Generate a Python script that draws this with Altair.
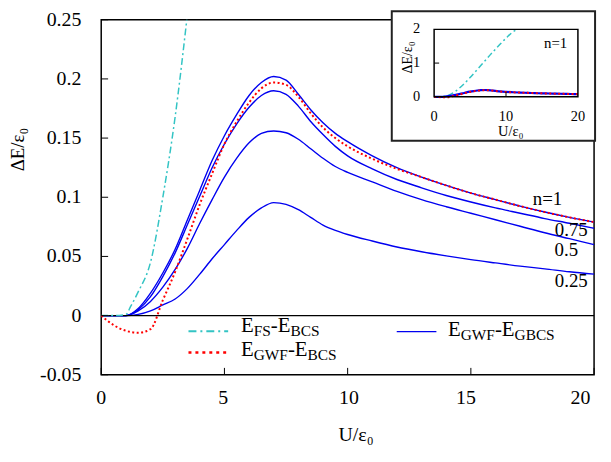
import altair as alt
import pandas as pd

# ---------------- data ----------------
U = [0, 0.5, 1, 1.5, 2, 2.5, 3, 3.5, 4, 4.5, 5, 5.5, 6, 6.5, 7, 7.5, 8, 8.5, 9, 9.5,
     10, 11, 12, 13, 14, 15, 16, 17, 18, 19, 20]
gwf_gbcs_n100 = [0, 0, 0, 0.006, 0.019, 0.036, 0.056, 0.081, 0.106, 0.131, 0.152, 0.170, 0.186, 0.197,
                 0.202, 0.199, 0.187, 0.174, 0.163, 0.154, 0.147, 0.135, 0.125, 0.117, 0.110, 0.1035,
                 0.098, 0.0925, 0.0875, 0.083, 0.079]
gwf_gbcs_n075 = [0, 0, 0, 0.005, 0.016, 0.033, 0.053, 0.077, 0.101, 0.125, 0.145, 0.162, 0.176, 0.186,
                 0.190, 0.187, 0.177, 0.164, 0.153, 0.143, 0.135, 0.124, 0.115, 0.108, 0.1015, 0.096,
                 0.091, 0.0865, 0.082, 0.078, 0.0738]
gwf_gbcs_n050 = [0, 0, 0, 0.004, 0.012, 0.024, 0.039, 0.057, 0.078, 0.098, 0.117, 0.133, 0.146, 0.154,
                 0.156, 0.1545, 0.149, 0.141, 0.133, 0.126, 0.121, 0.113, 0.105, 0.098, 0.092, 0.0865,
                 0.081, 0.0755, 0.070, 0.065, 0.060]
gwf_gbcs_n025 = [0, 0, 0, 0.001, 0.004, 0.009, 0.014, 0.023, 0.035, 0.048, 0.060, 0.072, 0.083, 0.091,
                 0.0955, 0.094, 0.0895, 0.083, 0.0765, 0.072, 0.0685, 0.063, 0.058, 0.054, 0.0505,
                 0.0473, 0.0445, 0.0418, 0.0395, 0.037, 0.035]
gwf_bcs = [0, -0.008, -0.0128, -0.0145, -0.0115, 0.013, 0.037, 0.065, 0.094, 0.120, 0.145, 0.164, 0.180,
           0.192, 0.197, 0.195, 0.185, 0.171, 0.159, 0.150, 0.143, 0.1325, 0.124, 0.117, 0.110, 0.1035,
           0.098, 0.0925, 0.0875, 0.083, 0.079]
U_fs = [0, 0.5, 1, 1.2, 1.5, 2, 2.5, 3, 3.5, 4, 5, 6, 7, 8, 9, 10, 11, 11.6]
fs_bcs = [0, 0, 0.001, 0.008, 0.02, 0.045, 0.1, 0.168, 0.255, 0.35, 0.57, 0.81, 1.05, 1.29, 1.52,
          1.74, 1.93, 2.0]

n_labels = ["n=1", "0.75", "0.5", "0.25"]

y_ticks = [-0.05, 0, 0.05, 0.1, 0.15, 0.2, 0.25]
y_tick_labels = ["-0.05", "0", "0.05", "0.1", "0.15", "0.2", "0.25"]
x_ticks = [0, 5, 10, 15, 20]
x_tick_labels = ["0", "5", "10", "15", "20"]
x_tick_label_pos = [0, 4.95, 10.05, 14.8, 19.45]   # where the labels sit in the figure
inset_x_ticks = [0, 10, 20]
inset_y_ticks = [0, 1, 2]

# ---------------- styling / layout ----------------
FONT = "Liberation Serif"
CYAN = "#33C4C4"
RED = "#FF0000"
BLUE = "#0000F0"
LEFT, TOP = 102, 18                 # page position of plot origin (8px body margin)
W, H = 497, 358
PX_PER_U = W / 20.0
PX_PER_DE = H / 0.30


def pu(page_x):        # page pixel x -> U (for annotations only)
    return (page_x - LEFT) / PX_PER_U


def pe(page_y):        # page pixel y -> dE (for annotations only)
    return 0.25 - (page_y - TOP) / PX_PER_DE


# inset plot rectangle (page pixels) and its linear scale
IN_X0, IN_X1 = 437.7, 582.7
IN_Y0, IN_Y1 = 95.7, 27.7           # page y of inset value 0 and 2
IN_SX = (IN_X1 - IN_X0) / 20.0
IN_SY = (IN_Y0 - IN_Y1) / 2.0

blue_df = pd.concat([
    pd.DataFrame({"U": U, "dE": v, "n": n})
    for v, n in [(gwf_gbcs_n100, "1"), (gwf_gbcs_n075, "0.75"),
                 (gwf_gbcs_n050, "0.5"), (gwf_gbcs_n025, "0.25")]
])
red_df = pd.DataFrame({"U": U, "dE": gwf_bcs})
cyan_df = pd.DataFrame({"U": U_fs, "dE": fs_bcs})
one = pd.DataFrame({"a": [0]})

xs = alt.Scale(domain=[0, 20], nice=False, zero=False)
ys = alt.Scale(domain=[-0.05, 0.25], nice=False, zero=False)


def X(f, **kw):
    return alt.X(f, scale=xs, axis=None, **kw)


def Y(f, **kw):
    return alt.Y(f, scale=ys, axis=None, **kw)


def inset_x_expr(field):
    return f"({IN_X0 - LEFT} + datum.{field}*{IN_SX})/{PX_PER_U}"


def inset_y_expr(field):
    return f"0.25 - ({IN_Y0 - TOP} - datum.{field}*{IN_SY})/{PX_PER_DE}"


def inset_chart(df):
    """Chart whose U/dE fields are mapped through the inset's own linear scale."""
    c = alt.Chart(df).transform_calculate(IX=inset_x_expr("U"), IY=inset_y_expr("dE"))
    if "U2" in df.columns:
        c = c.transform_calculate(IX2=inset_x_expr("U2"))
    if "dE2" in df.columns:
        c = c.transform_calculate(IY2=inset_y_expr("dE2"))
    return c


# ---------------- main plot ----------------
blue = alt.Chart(blue_df).mark_line(
    color=BLUE, strokeWidth=1.4, interpolate="monotone", clip=True
).encode(x=X("U:Q"), y=Y("dE:Q"), detail="n:N")

zero_line = alt.Chart(one).mark_rule(color="black", strokeWidth=1.2).encode(
    y=alt.Y(datum=0, scale=ys, axis=None))

cyan = alt.Chart(cyan_df).mark_line(
    color=CYAN, strokeWidth=1.5, strokeDash=[7, 3, 2, 3], interpolate="monotone", clip=True
).encode(x=X("U:Q"), y=Y("dE:Q"))

red = alt.Chart(red_df).mark_line(
    color=RED, strokeWidth=2, strokeDash=[2, 2.5], interpolate="monotone", clip=True
).encode(x=X("U:Q"), y=Y("dE:Q"))

# axes drawn from tick tables (inward ticks, labels, titles)
ytick_df = pd.DataFrame({"v": y_ticks, "t": y_tick_labels})
yticks = alt.Chart(ytick_df).mark_rule(color="black", strokeWidth=1).encode(
    x=alt.X(datum=0, scale=xs, axis=None), x2=alt.X2(datum=0.28), y=Y("v:Q"))
ylabels = alt.Chart(ytick_df).mark_text(
    font=FONT, fontSize=20, align="right", baseline="middle", color="black", dx=-20
).encode(x=alt.X(datum=0, scale=xs, axis=None), y=Y("v:Q"), text="t:N")

xtick_df = pd.DataFrame({"v": x_ticks, "t": x_tick_labels, "p": x_tick_label_pos})
xticks = alt.Chart(xtick_df).mark_rule(color="black", strokeWidth=1).encode(
    x=X("v:Q"), y=alt.Y(datum=-0.05, scale=ys, axis=None), y2=alt.Y2(datum=-0.0442))
xlabels = alt.Chart(xtick_df).mark_text(
    font=FONT, fontSize=20, align="center", baseline="middle", color="black", dy=23
).encode(x=X("p:Q"), y=alt.Y(datum=-0.05, scale=ys, axis=None), text="t:N")

xtitle = alt.Chart(pd.DataFrame({"U": [pu(359)], "dE": [pe(443)]})).mark_text(
    text="U/ε₀", font=FONT, fontSize=20, align="center", baseline="alphabetic", color="black"
).encode(x=X("U:Q"), y=Y("dE:Q"))
ytitle = alt.Chart(pd.DataFrame({"U": [pu(18)], "dE": [pe(149)]})).mark_text(
    text="ΔE/ε₀", font=FONT, fontSize=19, align="center", baseline="middle", angle=270,
    color="black"
).encode(x=X("U:Q"), y=Y("dE:Q"))

nlab_df = pd.DataFrame({"U": [pu(552), pu(576), pu(571), pu(576)],
                        "dE": [pe(199), pe(230), pe(250), pe(281)], "t": n_labels})
nlabels = alt.Chart(nlab_df).mark_text(
    font=FONT, fontSize=19, align="center", baseline="middle", color="black"
).encode(x=X("U:Q"), y=Y("dE:Q"), text="t:N")

# ---------------- legend (subscripted text built from segments) ----------------
BIG, SMALL = 21, 15.5
ADV = {"E": 0.611, "-": 0.333, "F": 0.556, "S": 0.556, "G": 0.722, "W": 0.944,
       "B": 0.667, "C": 0.667}

legend_entries = [
    # segments, text x, baseline y, sample x0, x1, sample y (page px), colour, dash, width
    ([("E", BIG), ("FS", SMALL), ("-", BIG), ("E", BIG), ("BCS", SMALL)],
     243, 333, 190, 230, 332, CYAN, [8, 4, 2, 4], 2),
    ([("E", BIG), ("GWF", SMALL), ("-", BIG), ("E", BIG), ("BCS", SMALL)],
     243, 357, 190, 232, 353.5, RED, [3, 4], 2.5),
    ([("E", BIG), ("GWF", SMALL), ("-", BIG), ("E", BIG), ("GBCS", SMALL)],
     451.7, 337, 400, 440, 332.5, BLUE, [1, 0], 1.5),
]

big_rows, small_rows, legend_lines = [], [], []
for segs, tx, ty, s0, s1, sy, col, dash, sw in legend_entries:
    x = tx
    for txt, size in segs:
        if size == BIG:
            big_rows.append({"U": pu(x), "dE": pe(ty), "t": txt})
        else:
            small_rows.append({"U": pu(x), "dE": pe(ty + 4), "t": txt})
        x += sum(ADV[c] for c in txt) * size
    legend_lines.append(
        alt.Chart(pd.DataFrame({"U": [pu(s0)], "U2": [pu(s1)], "dE": [pe(sy)]})).mark_rule(
            color=col, strokeDash=dash, strokeWidth=sw).encode(
            x=X("U:Q"), x2="U2:Q", y=Y("dE:Q")))

leg_big = alt.Chart(pd.DataFrame(big_rows)).mark_text(
    font=FONT, fontSize=BIG, align="left", baseline="alphabetic", color="black"
).encode(x=X("U:Q"), y=Y("dE:Q"), text="t:N")
leg_small = alt.Chart(pd.DataFrame(small_rows)).mark_text(
    font=FONT, fontSize=SMALL, align="left", baseline="alphabetic", color="black"
).encode(x=X("U:Q"), y=Y("dE:Q"), text="t:N")

# ---------------- inset (own linear scale via calculate) ----------------
outer = alt.Chart(pd.DataFrame({"U": [pu(395)], "U2": [pu(600)],
                                "dE": [pe(9.5)], "dE2": [pe(140)]})).mark_rect(
    fill="white", stroke="#222222", strokeWidth=2
).encode(x=X("U:Q"), x2="U2:Q", y=Y("dE:Q"), y2="dE2:Q")

frame = inset_chart(pd.DataFrame({"U": [0], "U2": [20], "dE": [0], "dE2": [2]})).mark_rect(
    fillOpacity=0, stroke="black", strokeWidth=1.5
).encode(x=X("IX:Q"), x2="IX2:Q", y=Y("IY:Q"), y2="IY2:Q")

i_cyan = inset_chart(cyan_df).mark_line(
    color=CYAN, strokeWidth=1.5, strokeDash=[6, 3, 2, 3], interpolate="monotone"
).encode(x=X("IX:Q"), y=Y("IY:Q"))
i_blue = inset_chart(pd.DataFrame({"U": U, "dE": gwf_gbcs_n100})).mark_line(
    color=BLUE, strokeWidth=2.2, interpolate="monotone"
).encode(x=X("IX:Q"), y=Y("IY:Q"))
i_red = inset_chart(red_df).mark_line(
    color=RED, strokeWidth=2, strokeDash=[2, 2.5], interpolate="monotone"
).encode(x=X("IX:Q"), y=Y("IY:Q"))

i_ytick = inset_chart(pd.DataFrame({"U": [0], "U2": [0.7], "dE": [1]})).mark_rule(
    color="black", strokeWidth=1).encode(x=X("IX:Q"), x2="IX2:Q", y=Y("IY:Q"))
i_xtick = inset_chart(pd.DataFrame({"U": [10], "dE": [0], "dE2": [0.15]})).mark_rule(
    color="black", strokeWidth=1).encode(x=X("IX:Q"), y=Y("IY:Q"), y2="IY2:Q")

i_xlab = inset_chart(pd.DataFrame({"U": inset_x_ticks, "dE": [0] * 3,
                                   "t": [str(v) for v in inset_x_ticks]})).mark_text(
    font=FONT, fontSize=14.5, align="center", baseline="middle", color="black", dy=20
).encode(x=X("IX:Q"), y=Y("IY:Q"), text="t:N")
i_ylab = inset_chart(pd.DataFrame({"U": [0] * 3, "dE": inset_y_ticks,
                                   "t": [str(v) for v in inset_y_ticks]})).mark_text(
    font=FONT, fontSize=14.5, align="right", baseline="middle", color="black", dx=-14
).encode(x=X("IX:Q"), y=Y("IY:Q"), text="t:N")

i_n = inset_chart(pd.DataFrame({"U": [16.9], "dE": [1.58], "t": ["n=1"]})).mark_text(
    font=FONT, fontSize=15, align="center", baseline="middle", color="black"
).encode(x=X("IX:Q"), y=Y("IY:Q"), text="t:N")

i_xtitle = alt.Chart(pd.DataFrame({"U": [pu(515)], "dE": [pe(131)]})).mark_text(
    text="U/ε₀", font=FONT, fontSize=14.5, align="center", baseline="middle", color="black"
).encode(x=X("U:Q"), y=Y("dE:Q"))
i_ytitle = alt.Chart(pd.DataFrame({"U": [pu(411)], "dE": [pe(56)]})).mark_text(
    text="ΔE/ε₀", font=FONT, fontSize=14, align="center", baseline="middle", angle=270,
    color="black"
).encode(x=X("U:Q"), y=Y("dE:Q"))

chart = alt.layer(
    blue, zero_line, cyan, red, yticks, xticks, ylabels, xlabels, xtitle, ytitle, nlabels,
    *legend_lines, leg_big, leg_small,
    outer, i_cyan, i_blue, i_red, frame, i_ytick, i_xtick,
    i_xlab, i_ylab, i_n, i_xtitle, i_ytitle,
).properties(
    width=W, height=H,
    padding={"left": LEFT - 8, "top": TOP - 8, "right": 9, "bottom": 72},
    autosize=alt.AutoSizeParams(type="none"),
    background="white",
).configure_view(stroke="black", strokeWidth=1.5)

chart.save("out.html", embed_options={"renderer": "svg", "actions": False})
